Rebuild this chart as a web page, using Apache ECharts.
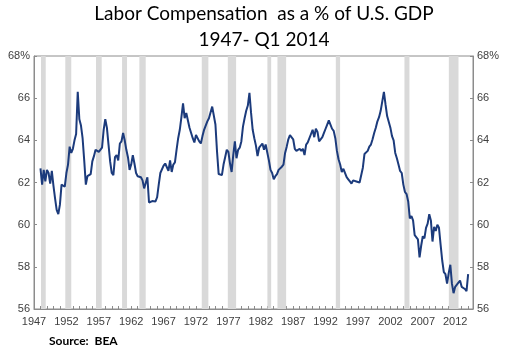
<!DOCTYPE html>
<html>
<head>
<meta charset="utf-8">
<script src="https://cdn.jsdelivr.net/npm/echarts@6/dist/echarts.min.js"></script>
<style>html,body{margin:0;padding:0;background:#fff;}#c{width:508px;height:350px;}</style>
</head>
<body>
<div id="c"></div>
<script>
// Quarterly labor compensation as % of GDP, first quarter plotted at startYear
var startYear = 1948;
var share1940s = [62.67, 61.9, 62.6, 62.05, 62.6, 62.45, 61.95, 62.55];
var share1950s = [61.85, 61.25, 60.7, 60.5, 60.95, 61.9, 61.95, 61.8, 62.45, 62.85, 63.7, 63.4,
  63.6, 64.0, 64.3, 66.3, 65.0, 64.7, 64.1, 63.05, 61.9, 62.3, 62.35, 62.4,
  63.0, 63.25, 63.55, 63.5, 63.45, 63.45, 63.65, 64.5, 65.0, 64.6, 63.8, 63.0,
  62.45, 62.35, 63.2, 63.3];
var share1960s = [63.05, 63.85, 63.95, 64.35, 64.0, 63.55, 63.2, 62.6, 62.85, 63.3, 62.9, 62.45,
  62.3, 62.3, 62.25, 62.1, 61.72, 61.72, 62.25, 61.05, 61.05, 61.12, 61.15, 61.1,
  61.3, 61.9, 62.45, 62.5, 62.8, 62.9, 62.85, 62.55, 63.05, 62.5, 62.85, 62.95,
  63.55, 64.1, 64.5, 65.1];
var share1970s = [65.75, 65.05, 65.3, 65.3, 64.6, 64.35, 64.1, 63.9, 64.25, 64.25, 63.95, 63.85,
  64.2, 64.5, 64.5, 64.9, 65.05, 65.1, 65.6, 65.65, 64.75, 63.45, 62.4, 62.35,
  62.35, 62.85, 63.2, 63.55, 63.45, 62.9, 62.5, 63.3, 63.95, 63.15, 63.55, 63.65,
  63.95, 64.65, 65.05, 65.4];
var share1980s = [65.65, 66.25, 65.3, 64.5, 64.1, 63.75, 63.25, 63.65, 63.6, 63.85, 63.55, 63.8,
  63.85, 63.05, 62.6, 62.45, 62.15, 62.3, 62.4, 62.6, 62.65, 62.75, 62.85, 63.4,
  63.7, 64.05, 64.25, 64.25, 64.05, 63.6, 63.5, 63.55, 63.6, 63.5, 63.6, 63.3,
  63.8, 63.9, 63.95, 64.3];
var share1990s = [64.5, 64.15, 64.55, 64.4, 63.95, 64.0, 64.15, 64.35, 64.55, 64.75, 64.95, 64.75,
  64.55, 64.45, 64.1, 63.5, 63.1, 62.85, 62.5, 62.65, 62.6, 62.25, 62.15, 62.05,
  61.95, 62.1, 62.05, 62.05, 62.1, 62.0, 61.98, 62.7, 63.35, 63.4, 63.5, 63.7,
  63.8, 64.05, 64.35, 64.6];
var share2000s = [64.9, 65.1, 65.4, 65.85, 66.3, 65.7, 65.15, 65.2, 64.6, 64.2, 64.0, 63.4,
  63.15, 62.85, 62.55, 62.45, 61.9, 61.55, 61.45, 61.1, 60.3, 60.4, 60.2, 59.5,
  59.45, 59.3, 58.45, 59.0, 59.45, 59.35, 59.85, 60.05, 60.5, 60.2, 59.2, 59.9,
  59.7, 60.0, 59.85, 59.05];
var share2010s = [58.3, 57.75, 57.65, 57.2, 57.7, 58.1, 57.2, 56.75, 57.05, 57.0, 57.25, 57.35,
  57.05, 57.05, 56.95, 56.85, 57.65];

// shaded periods (in axis years)
var shadeStart = [1948.08, 1951.83, 1956.57, 1960.59, 1963.26, 1972.89, 1976.91, 1983.02, 1984.57, 1993.58, 2004.17, 2011.02];
var shadeEnd   = [1948.81, 1952.75, 1957.45, 1961.36, 1964.24, 1973.91, 1978.19, 1983.60, 1985.91, 1994.24, 2004.94, 2012.51];

var xTickYears = [1947, 1952, 1957, 1962, 1967, 1972, 1977, 1982, 1987, 1992, 1997, 2002, 2007, 2012];
var yTicks = [56, 58, 60, 62, 64, 66, 68];

var titleText = 'Labor Compensation  as a % of U.S. GDP';
var subtitleText = '1947- Q1 2014';
var sourceText = 'Source:  BEA';

var allShare = [].concat(share1940s, share1950s, share1960s, share1970s, share1980s, share1990s, share2000s, share2010s);
var lineData = allShare.map(function (v, i) { return [startYear + i / 4, v]; });
var areaData = shadeStart.map(function (s, i) { return [{ xAxis: s }, { xAxis: shadeEnd[i] }]; });

var labelColor = '#404040';
var axisColor = '#8c8c8c';
var titleFont = 'Lato, Carlito, sans-serif';

function yAxisCfg(pos) {
  return {
    type: 'value', position: pos, min: yTicks[0], max: yTicks[yTicks.length - 1], interval: 2,
    axisLine: { show: true, lineStyle: { color: axisColor, width: 1 } },
    axisTick: { show: true, inside: true, length: 3, lineStyle: { color: axisColor } },
    splitLine: { show: false },
    axisLabel: {
      color: labelColor, fontFamily: 'Liberation Sans, Arial, sans-serif', fontSize: 11, margin: 4,
      formatter: function (v) { return v === 68 ? '68%' : String(v); }
    }
  };
}

var chart = echarts.init(document.getElementById('c'), null, { renderer: 'canvas' });
chart.setOption({
  animation: false,
  backgroundColor: '#ffffff',
  graphic: [
    { type: 'text', x: 264, y: 4, style: { text: titleText, textAlign: 'center', textVerticalAlign: 'top', font: 'normal 19px ' + titleFont, fill: '#000' } },
    { type: 'text', x: 264, y: 30, style: { text: subtitleText, textAlign: 'center', textVerticalAlign: 'top', font: 'normal 19px ' + titleFont, fill: '#000' } },
    { type: 'text', x: 49, y: 335, style: { text: sourceText, textAlign: 'left', textVerticalAlign: 'top', font: 'bold 12px ' + titleFont, fill: '#000' } }
  ],
  grid: { left: 34, right: 35, top: 56, bottom: 41, show: true, borderColor: axisColor, borderWidth: 1, backgroundColor: 'transparent' },
  xAxis: {
    type: 'value', min: 1947, max: 2014.75, interval: 1,
    axisLine: { show: true, lineStyle: { color: axisColor, width: 1 } },
    axisTick: { show: true, inside: true, length: 3, lineStyle: { color: axisColor } },
    splitLine: { show: false },
    axisLabel: {
      color: labelColor, fontFamily: 'Liberation Sans, Arial, sans-serif', fontSize: 11, margin: 7,
      formatter: function (v) { return xTickYears.indexOf(v) >= 0 ? String(v) : ''; }
    }
  },
  yAxis: [yAxisCfg('left'), yAxisCfg('right')],
  series: [
    {
      type: 'line', data: [], z: 1, silent: true,
      markArea: { silent: true, itemStyle: { color: '#d9d9d9' }, data: areaData }
    },
    {
      type: 'line', data: lineData, z: 3, showSymbol: false, symbol: 'none',
      lineStyle: { color: '#1c3b7c', width: 2 }
    }
  ]
});
</script>
</body>
</html>
